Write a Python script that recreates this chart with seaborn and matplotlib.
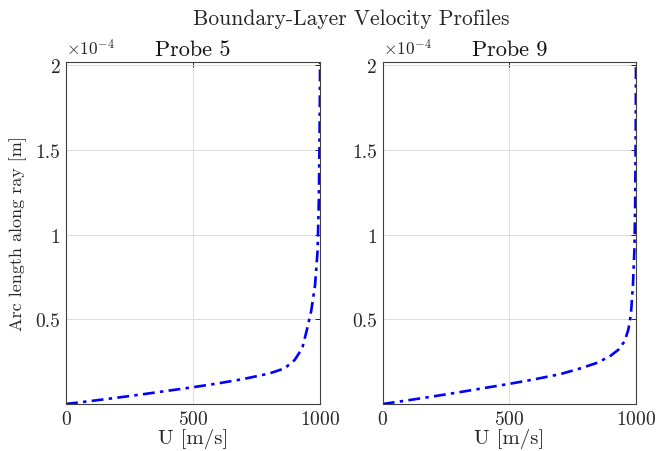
import numpy as np
import pandas as pd
import matplotlib
matplotlib.use("Agg")
import matplotlib.pyplot as plt
import seaborn as sns
from matplotlib.ticker import FuncFormatter

# ---- data (arc length in units of 1e-4 m) ----
u_probe5 = [0, 100, 200, 300, 400, 500, 600, 700, 800, 860, 900, 930, 950, 965, 980, 990, 995, 998, 1000]
s_probe5 = [0, 0.018, 0.037, 0.057, 0.078, 0.099, 0.122, 0.148, 0.180, 0.21, 0.26, 0.33, 0.45, 0.55, 0.70, 0.90, 1.20, 1.60, 2.02]

u_probe9 = [0, 100, 200, 300, 400, 500, 600, 700, 780, 850, 900, 930, 955, 970, 980, 988, 994, 997, 999, 1000]
s_probe9 = [0, 0.022, 0.045, 0.069, 0.094, 0.119, 0.146, 0.176, 0.21, 0.245, 0.285, 0.32, 0.37, 0.44, 0.53, 0.70, 0.92, 1.20, 1.60, 2.02]

probe_titles = ["Probe 5", "Probe 9"]
x_ticks = [0, 500, 1000]
y_ticks = [0.5, 1.0, 1.5, 2.0]

sns.set_theme(style="white")
plt.rcParams.update({
    "font.family": ["cmr10", "DejaVu Sans"],
    "mathtext.fontset": "cm",
    "axes.unicode_minus": False,
    "axes.formatter.use_mathtext": True,
})

fig = plt.figure(figsize=(6.6, 4.52), dpi=100)
positions = [[0.1, 0.104, 0.385, 0.757], [0.580, 0.104, 0.3836, 0.757]]
datasets = [(u_probe5, s_probe5), (u_probe9, s_probe9)]

txt = "#262626"
for i, (pos, (u, s)) in enumerate(zip(positions, datasets)):
    ax = fig.add_axes(pos)
    df = pd.DataFrame({"U": u, "s": s})
    sns.lineplot(data=df, x="U", y="s", ax=ax, sort=False, estimator=None,
                 color="#0000ff", linewidth=1.9, linestyle=(0, (4.5, 2, 1.3, 2)))
    ax.set_xlim(0, 1000)
    ax.set_ylim(0, 2.02)
    ax.set_xticks(x_ticks)
    ax.set_yticks(y_ticks)
    ax.yaxis.set_major_formatter(FuncFormatter(lambda v, p: f"{v:g}"))
    ax.grid(True, color="#dcdcdc", linewidth=0.7)
    ax.tick_params(direction="in", length=3.5, width=0.7, colors=txt,
                   top=True, right=True, labelsize=14, pad=4)
    for t in ax.get_xticklabels() + ax.get_yticklabels():
        t.set_color(txt)
    for sp in ax.spines.values():
        sp.set_color("#404040")
        sp.set_linewidth(0.8)
    ax.set_xlabel("U [m/s]", fontsize=15, color=txt, labelpad=0)
    ax.set_ylabel("Arc length along ray [m]" if i == 0 else "", fontsize=13,
                  color=txt, labelpad=6)
    ax.set_title(probe_titles[i], fontsize=16, color="#111111", pad=5)
    ax.text(0.0, 1.012, r"$\times10^{-4}$", transform=ax.transAxes, fontsize=12.5,
            color=txt, ha="left", va="bottom")

fig.text(0.532, 0.958, "Boundary-Layer Velocity Profiles", ha="center", va="center",
         fontsize=15.5, color=txt)

fig.savefig("out.png", dpi=100)
